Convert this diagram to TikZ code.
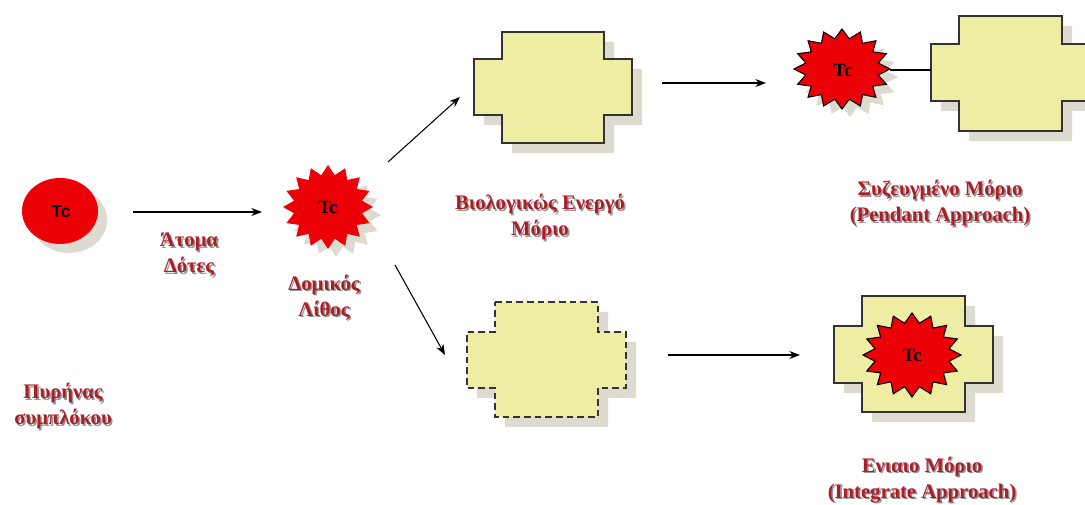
\documentclass[tikz,border=0pt]{standalone}
\usepackage{fontspec}
\setmainfont{Liberation Serif}
\newfontfamily\tcsans{Liberation Sans}
\usetikzlibrary{arrows.meta,shapes.geometric}

\definecolor{corered}{RGB}{236,0,8}
\definecolor{pale}{RGB}{239,237,164}
\definecolor{shade}{RGB}{221,219,208}
\definecolor{lblred}{RGB}{170,30,40}
\definecolor{lblshade}{RGB}{150,150,150}

\tikzset{
  arr/.style={line width=0.8pt, -{Stealth[length=8pt,width=6pt]}},
  link/.style={line width=0.8pt},
  molfill/.style={fill=pale, draw=black!80, line width=0.8pt},
  shadowfill/.style={fill=shade},
  burstred/.style={fill=corered},
  lbltxt/.style={align=center, font=\bfseries\fontsize{15.5pt}{19.5pt}\selectfont, text=lblred, inner sep=0pt},
  tclabel/.style={font=\bfseries\fontsize{14pt}{15pt}\selectfont, inner sep=0pt},
  anchorbox/.style={inner sep=0pt, draw=none}
}

% cross-shaped molecule outline: L, a, b, R (x) and T, c, d, B (y)
\newcommand\plusoutline[8]{(#2,#5) -- (#3,#5) -- (#3,#6) -- (#4,#6) -- (#4,#7) -- (#3,#7) -- (#3,#8) -- (#2,#8) -- (#2,#7) -- (#1,#7) -- (#1,#6) -- (#2,#6) -- cycle}

% sixteen-point burst centred at (#1,#2) with radii #3 (x) and #4 (y)
\newcommand\burstoutline[4]{([shift={(#1,#2)}]90:#3 and #4)
  \foreach \k [evaluate=\k as \fr using {mod(\k,2)==0 ? 1 : 0.77}] in {1,...,31}{
    -- ([shift={(#1,#2)}]{90+\k*11.25}:{#3*\fr} and {#4*\fr})} -- cycle}

% two-layer label: grey offset copy beneath the red text
\newcommand\lbl[3]{%
  \node[lbltxt, text=lblshade] at ([shift={(1.6,1.6)}]#2) {#3};
  \node[lbltxt] (#1) at (#2) {#3};}

\begin{document}
\begin{tikzpicture}[x=0.75pt, y=-0.75pt]
\useasboundingbox (0,0) rectangle (1085,505);
\clip (0,0) rectangle (1085,505);

% --- complex core ---
\fill[shadowfill] (69,220) ellipse [x radius=38, y radius=33];
\node[ellipse, fill=corered, minimum width=57pt, minimum height=49.5pt, inner sep=0pt] (core) at (60,211) {};
\node[font=\tcsans\bfseries\fontsize{13pt}{14pt}\selectfont, inner sep=0pt] (coretc) at (61,212) {Tc};

% --- building block ---
\fill[shadowfill] \burstoutline{336}{215}{45}{42};
\fill[burstred] \burstoutline{328}{207}{45}{42};
\node[tclabel] (tc1) at (328,207) {Tc};
\node[anchorbox, minimum width=67pt, minimum height=63pt] (block) at (328,207) {};

% --- biologically active molecule ---
\fill[shadowfill, shift={(10,10)}] \plusoutline{474}{502}{604}{632}{32}{59}{115}{143};
\draw[molfill] \plusoutline{474}{502}{604}{632}{32}{59}{115}{143};
\node[anchorbox, minimum width=118pt, minimum height=83pt] (bio) at (553,87.5) {};

% --- dashed precursor molecule ---
\fill[shadowfill, shift={(10,10)}] \plusoutline{467}{495}{598}{626}{302}{332}{388}{417};
\draw[molfill, dashed, dash pattern=on 5pt off 3pt] \plusoutline{467}{495}{598}{626}{302}{332}{388}{417};
\node[anchorbox, minimum width=119pt, minimum height=86pt] (pre) at (546.5,359.5) {};

% --- pendant conjugate ---
\fill[shadowfill] \burstoutline{850}{77}{48}{40};
\draw[burstred, draw=black, line width=0.8pt] \burstoutline{842}{69}{48}{40};
\node[tclabel] (tc2) at (843,70) {Tc};
\coordinate (tc2r) at (890,70);
\fill[shadowfill, shift={(10,10)}] \plusoutline{931}{959}{1062}{1092}{16}{44}{101}{131};
\draw[molfill] \plusoutline{931}{959}{1062}{1092}{16}{44}{101}{131};
\coordinate (pendl) at (931,70);
\draw[link] (tc2r) -- (pendl);

% --- integrated conjugate ---
\fill[shadowfill, shift={(10,10)}] \plusoutline{834}{862}{965}{993}{296}{326}{383}{412};
\draw[molfill] \plusoutline{834}{862}{965}{993}{296}{326}{383}{412};
\draw[burstred, draw=black, line width=0.8pt] \burstoutline{912}{355}{49}{42};
\node[tclabel] (tc3) at (912,355) {Tc};
\node[anchorbox, minimum width=119pt, minimum height=87pt] (integ) at (913.5,354) {};

% --- arrows ---
\coordinate (a1s) at (133,212);  \coordinate (a1e) at (262,212);
\coordinate (a2s) at (388,162);  \coordinate (a2e) at (460,97);
\coordinate (a3s) at (395,265);  \coordinate (a3e) at (445,355);
\coordinate (a4s) at (662,83);   \coordinate (a4e) at (766,83);
\coordinate (a5s) at (668,355);  \coordinate (a5e) at (800,355);
\draw[arr] (a1s) -- (a1e);
\draw[arr] (a2s) -- (a2e);
\draw[arr] (a3s) -- (a3e);
\draw[arr] (a4s) -- (a4e);
\draw[arr] (a5s) -- (a5e);

% --- labels ---
\lbl{ldonor}{189,255}{Άτομα\\Δότες}
\lbl{lblock}{324,297.5}{Δομικός\\Λίθος}
\lbl{lbio}{540,217}{Βιολογικώς Ενεργό\\Μόριο}
\lbl{lpend}{940,203}{Συζευγμένο Μόριο\\(Pendant Approach)}
\lbl{linteg}{922,480}{Ενιαιο Μόριο\\(Integrate Approach)}
\lbl{lcore}{63,406.5}{Πυρήνας\\συμπλόκου}
\end{tikzpicture}
\end{document}
